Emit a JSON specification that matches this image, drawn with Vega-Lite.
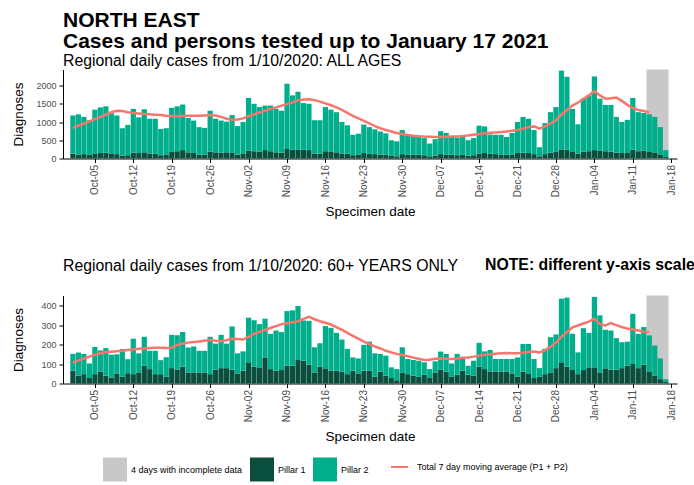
{
"$schema": "https://vega.github.io/schema/vega-lite/v6.json",
"padding": {"left": 10, "top": 9.5, "right": 0, "bottom": 0},
"config": {
  "font": "Liberation Sans",
  "view": {"stroke": null},
  "axis": {"domainColor": "black", "tickColor": "black", "labelColor": "#4d4d4d", "titleColor": "black", "grid": false, "titleFontWeight": "normal", "titleFontSize": 13.5, "tickSize": 4, "domainWidth": 1, "tickWidth": 1, "labelFont": "Liberation Sans", "titleFont": "Liberation Sans"},
  "legend": {"labelFont": "Liberation Sans", "labelFontSize": 9, "labelColor": "black", "padding": 0, "offset": 0},
  "title": {"font": "Liberation Sans", "subtitleFont": "Liberation Sans", "color": "black", "subtitleColor": "black"}
},
"datasets": {
"incomplete": [{"date": "2021-01-14", "end": "2021-01-17", "series": "4 days with incomplete data"}],
"top": [
{"date":"2020-10-01","Pillar 1":130,"Pillar 2":1050,"ma":840},
{"date":"2020-10-02","Pillar 1":110,"Pillar 2":1100,"ma":900},
{"date":"2020-10-03","Pillar 1":120,"Pillar 2":1020,"ma":960},
{"date":"2020-10-04","Pillar 1":100,"Pillar 2":950,"ma":1020},
{"date":"2020-10-05","Pillar 1":140,"Pillar 2":1200,"ma":1080},
{"date":"2020-10-06","Pillar 1":150,"Pillar 2":1250,"ma":1140},
{"date":"2020-10-07","Pillar 1":160,"Pillar 2":1270,"ma":1200},
{"date":"2020-10-08","Pillar 1":140,"Pillar 2":1100,"ma":1270},
{"date":"2020-10-09","Pillar 1":120,"Pillar 2":1060,"ma":1310},
{"date":"2020-10-10","Pillar 1":80,"Pillar 2":750,"ma":1300},
{"date":"2020-10-11","Pillar 1":90,"Pillar 2":830,"ma":1270},
{"date":"2020-10-12","Pillar 1":160,"Pillar 2":1200,"ma":1250},
{"date":"2020-10-13","Pillar 1":150,"Pillar 2":980,"ma":1235},
{"date":"2020-10-14","Pillar 1":170,"Pillar 2":1180,"ma":1220},
{"date":"2020-10-15","Pillar 1":140,"Pillar 2":950,"ma":1210},
{"date":"2020-10-16","Pillar 1":130,"Pillar 2":960,"ma":1200},
{"date":"2020-10-17","Pillar 1":90,"Pillar 2":720,"ma":1190},
{"date":"2020-10-18","Pillar 1":100,"Pillar 2":730,"ma":1175},
{"date":"2020-10-19","Pillar 1":180,"Pillar 2":1210,"ma":1160},
{"date":"2020-10-20","Pillar 1":200,"Pillar 2":1230,"ma":1160},
{"date":"2020-10-21","Pillar 1":230,"Pillar 2":1250,"ma":1165},
{"date":"2020-10-22","Pillar 1":170,"Pillar 2":940,"ma":1170},
{"date":"2020-10-23","Pillar 1":150,"Pillar 2":890,"ma":1175},
{"date":"2020-10-24","Pillar 1":110,"Pillar 2":750,"ma":1170},
{"date":"2020-10-25","Pillar 1":100,"Pillar 2":740,"ma":1180},
{"date":"2020-10-26","Pillar 1":190,"Pillar 2":1120,"ma":1190},
{"date":"2020-10-27","Pillar 1":170,"Pillar 2":920,"ma":1180},
{"date":"2020-10-28","Pillar 1":160,"Pillar 2":880,"ma":1140},
{"date":"2020-10-29","Pillar 1":170,"Pillar 2":840,"ma":1090},
{"date":"2020-10-30","Pillar 1":150,"Pillar 2":1040,"ma":1060},
{"date":"2020-10-31","Pillar 1":110,"Pillar 2":780,"ma":1070},
{"date":"2020-11-01","Pillar 1":140,"Pillar 2":860,"ma":1100},
{"date":"2020-11-02","Pillar 1":220,"Pillar 2":1440,"ma":1160},
{"date":"2020-11-03","Pillar 1":200,"Pillar 2":1300,"ma":1210},
{"date":"2020-11-04","Pillar 1":190,"Pillar 2":1220,"ma":1260},
{"date":"2020-11-05","Pillar 1":230,"Pillar 2":1220,"ma":1310},
{"date":"2020-11-06","Pillar 1":200,"Pillar 2":1250,"ma":1360},
{"date":"2020-11-07","Pillar 1":170,"Pillar 2":1190,"ma":1400},
{"date":"2020-11-08","Pillar 1":160,"Pillar 2":1150,"ma":1450},
{"date":"2020-11-09","Pillar 1":260,"Pillar 2":1790,"ma":1490},
{"date":"2020-11-10","Pillar 1":240,"Pillar 2":1490,"ma":1540},
{"date":"2020-11-11","Pillar 1":250,"Pillar 2":1580,"ma":1600},
{"date":"2020-11-12","Pillar 1":240,"Pillar 2":1280,"ma":1620},
{"date":"2020-11-13","Pillar 1":230,"Pillar 2":1270,"ma":1625},
{"date":"2020-11-14","Pillar 1":130,"Pillar 2":920,"ma":1600},
{"date":"2020-11-15","Pillar 1":140,"Pillar 2":910,"ma":1560},
{"date":"2020-11-16","Pillar 1":200,"Pillar 2":1210,"ma":1510},
{"date":"2020-11-17","Pillar 1":180,"Pillar 2":1160,"ma":1460},
{"date":"2020-11-18","Pillar 1":170,"Pillar 2":1100,"ma":1400},
{"date":"2020-11-19","Pillar 1":140,"Pillar 2":860,"ma":1330},
{"date":"2020-11-20","Pillar 1":130,"Pillar 2":780,"ma":1250},
{"date":"2020-11-21","Pillar 1":90,"Pillar 2":560,"ma":1170},
{"date":"2020-11-22","Pillar 1":100,"Pillar 2":580,"ma":1100},
{"date":"2020-11-23","Pillar 1":150,"Pillar 2":780,"ma":1030},
{"date":"2020-11-24","Pillar 1":130,"Pillar 2":730,"ma":960},
{"date":"2020-11-25","Pillar 1":120,"Pillar 2":680,"ma":890},
{"date":"2020-11-26","Pillar 1":110,"Pillar 2":630,"ma":830},
{"date":"2020-11-27","Pillar 1":100,"Pillar 2":590,"ma":780},
{"date":"2020-11-28","Pillar 1":70,"Pillar 2":430,"ma":740},
{"date":"2020-11-29","Pillar 1":60,"Pillar 2":410,"ma":700},
{"date":"2020-11-30","Pillar 1":120,"Pillar 2":660,"ma":670},
{"date":"2020-12-01","Pillar 1":110,"Pillar 2":530,"ma":645},
{"date":"2020-12-02","Pillar 1":100,"Pillar 2":540,"ma":625},
{"date":"2020-12-03","Pillar 1":100,"Pillar 2":520,"ma":610},
{"date":"2020-12-04","Pillar 1":90,"Pillar 2":470,"ma":600},
{"date":"2020-12-05","Pillar 1":60,"Pillar 2":350,"ma":595},
{"date":"2020-12-06","Pillar 1":80,"Pillar 2":450,"ma":590},
{"date":"2020-12-07","Pillar 1":120,"Pillar 2":630,"ma":590},
{"date":"2020-12-08","Pillar 1":110,"Pillar 2":590,"ma":595},
{"date":"2020-12-09","Pillar 1":100,"Pillar 2":490,"ma":600},
{"date":"2020-12-10","Pillar 1":90,"Pillar 2":480,"ma":605},
{"date":"2020-12-11","Pillar 1":100,"Pillar 2":490,"ma":615},
{"date":"2020-12-12","Pillar 1":80,"Pillar 2":420,"ma":630},
{"date":"2020-12-13","Pillar 1":90,"Pillar 2":470,"ma":650},
{"date":"2020-12-14","Pillar 1":140,"Pillar 2":760,"ma":670},
{"date":"2020-12-15","Pillar 1":150,"Pillar 2":730,"ma":690},
{"date":"2020-12-16","Pillar 1":130,"Pillar 2":530,"ma":705},
{"date":"2020-12-17","Pillar 1":120,"Pillar 2":530,"ma":715},
{"date":"2020-12-18","Pillar 1":110,"Pillar 2":540,"ma":725},
{"date":"2020-12-19","Pillar 1":100,"Pillar 2":490,"ma":740},
{"date":"2020-12-20","Pillar 1":110,"Pillar 2":590,"ma":760},
{"date":"2020-12-21","Pillar 1":150,"Pillar 2":850,"ma":780},
{"date":"2020-12-22","Pillar 1":160,"Pillar 2":980,"ma":820},
{"date":"2020-12-23","Pillar 1":150,"Pillar 2":940,"ma":860},
{"date":"2020-12-24","Pillar 1":120,"Pillar 2":660,"ma":880},
{"date":"2020-12-25","Pillar 1":60,"Pillar 2":250,"ma":820},
{"date":"2020-12-26","Pillar 1":120,"Pillar 2":850,"ma":880},
{"date":"2020-12-27","Pillar 1":160,"Pillar 2":1110,"ma":960},
{"date":"2020-12-28","Pillar 1":180,"Pillar 2":1230,"ma":1050},
{"date":"2020-12-29","Pillar 1":250,"Pillar 2":2160,"ma":1200},
{"date":"2020-12-30","Pillar 1":240,"Pillar 2":2000,"ma":1330},
{"date":"2020-12-31","Pillar 1":180,"Pillar 2":1180,"ma":1450},
{"date":"2021-01-01","Pillar 1":130,"Pillar 2":810,"ma":1530},
{"date":"2021-01-02","Pillar 1":190,"Pillar 2":1450,"ma":1640},
{"date":"2021-01-03","Pillar 1":200,"Pillar 2":1530,"ma":1730},
{"date":"2021-01-04","Pillar 1":230,"Pillar 2":2020,"ma":1850},
{"date":"2021-01-05","Pillar 1":210,"Pillar 2":1430,"ma":1730},
{"date":"2021-01-06","Pillar 1":200,"Pillar 2":1270,"ma":1640},
{"date":"2021-01-07","Pillar 1":190,"Pillar 2":1280,"ma":1650},
{"date":"2021-01-08","Pillar 1":160,"Pillar 2":980,"ma":1670},
{"date":"2021-01-09","Pillar 1":150,"Pillar 2":850,"ma":1580},
{"date":"2021-01-10","Pillar 1":150,"Pillar 2":910,"ma":1470},
{"date":"2021-01-11","Pillar 1":240,"Pillar 2":1420,"ma":1380},
{"date":"2021-01-12","Pillar 1":200,"Pillar 2":1070,"ma":1330},
{"date":"2021-01-13","Pillar 1":210,"Pillar 2":1040,"ma":1300},
{"date":"2021-01-14","Pillar 1":180,"Pillar 2":1030,"ma":1260},
{"date":"2021-01-15","Pillar 1":160,"Pillar 2":980},
{"date":"2021-01-16","Pillar 1":110,"Pillar 2":750},
{"date":"2021-01-17","Pillar 1":40,"Pillar 2":190}
],
"bottom": [
{"date":"2020-10-01","Pillar 1":66,"Pillar 2":86,"ma":108},
{"date":"2020-10-02","Pillar 1":40,"Pillar 2":119,"ma":118},
{"date":"2020-10-03","Pillar 1":48,"Pillar 2":104,"ma":128},
{"date":"2020-10-04","Pillar 1":28,"Pillar 2":75,"ma":138},
{"date":"2020-10-05","Pillar 1":48,"Pillar 2":140,"ma":148},
{"date":"2020-10-06","Pillar 1":62,"Pillar 2":108,"ma":155},
{"date":"2020-10-07","Pillar 1":40,"Pillar 2":142,"ma":160},
{"date":"2020-10-08","Pillar 1":31,"Pillar 2":117,"ma":163},
{"date":"2020-10-09","Pillar 1":52,"Pillar 2":98,"ma":166},
{"date":"2020-10-10","Pillar 1":34,"Pillar 2":143,"ma":168},
{"date":"2020-10-11","Pillar 1":53,"Pillar 2":72,"ma":172},
{"date":"2020-10-12","Pillar 1":48,"Pillar 2":182,"ma":175},
{"date":"2020-10-13","Pillar 1":57,"Pillar 2":98,"ma":178},
{"date":"2020-10-14","Pillar 1":91,"Pillar 2":149,"ma":180},
{"date":"2020-10-15","Pillar 1":74,"Pillar 2":94,"ma":182},
{"date":"2020-10-16","Pillar 1":48,"Pillar 2":120,"ma":183},
{"date":"2020-10-17","Pillar 1":48,"Pillar 2":72,"ma":183},
{"date":"2020-10-18","Pillar 1":34,"Pillar 2":101,"ma":182},
{"date":"2020-10-19","Pillar 1":79,"Pillar 2":171,"ma":184},
{"date":"2020-10-20","Pillar 1":72,"Pillar 2":176,"ma":198},
{"date":"2020-10-21","Pillar 1":86,"Pillar 2":179,"ma":205},
{"date":"2020-10-22","Pillar 1":57,"Pillar 2":128,"ma":210},
{"date":"2020-10-23","Pillar 1":57,"Pillar 2":133,"ma":213},
{"date":"2020-10-24","Pillar 1":57,"Pillar 2":111,"ma":216},
{"date":"2020-10-25","Pillar 1":57,"Pillar 2":111,"ma":220},
{"date":"2020-10-26","Pillar 1":48,"Pillar 2":192,"ma":224},
{"date":"2020-10-27","Pillar 1":71,"Pillar 2":134,"ma":220},
{"date":"2020-10-28","Pillar 1":79,"Pillar 2":171,"ma":217},
{"date":"2020-10-29","Pillar 1":79,"Pillar 2":126,"ma":222},
{"date":"2020-10-30","Pillar 1":71,"Pillar 2":222,"ma":230},
{"date":"2020-10-31","Pillar 1":52,"Pillar 2":103,"ma":228},
{"date":"2020-11-01","Pillar 1":66,"Pillar 2":99,"ma":226},
{"date":"2020-11-02","Pillar 1":109,"Pillar 2":229,"ma":240},
{"date":"2020-11-03","Pillar 1":86,"Pillar 2":239,"ma":255},
{"date":"2020-11-04","Pillar 1":83,"Pillar 2":222,"ma":265},
{"date":"2020-11-05","Pillar 1":134,"Pillar 2":199,"ma":275},
{"date":"2020-11-06","Pillar 1":74,"Pillar 2":181,"ma":285},
{"date":"2020-11-07","Pillar 1":66,"Pillar 2":206,"ma":295},
{"date":"2020-11-08","Pillar 1":69,"Pillar 2":195,"ma":305},
{"date":"2020-11-09","Pillar 1":91,"Pillar 2":281,"ma":310},
{"date":"2020-11-10","Pillar 1":91,"Pillar 2":285,"ma":315},
{"date":"2020-11-11","Pillar 1":121,"Pillar 2":277,"ma":320},
{"date":"2020-11-12","Pillar 1":117,"Pillar 2":207,"ma":332},
{"date":"2020-11-13","Pillar 1":97,"Pillar 2":225,"ma":342},
{"date":"2020-11-14","Pillar 1":57,"Pillar 2":129,"ma":330},
{"date":"2020-11-15","Pillar 1":86,"Pillar 2":121,"ma":320},
{"date":"2020-11-16","Pillar 1":78,"Pillar 2":217,"ma":312},
{"date":"2020-11-17","Pillar 1":66,"Pillar 2":220,"ma":303},
{"date":"2020-11-18","Pillar 1":66,"Pillar 2":194,"ma":290},
{"date":"2020-11-19","Pillar 1":62,"Pillar 2":164,"ma":275},
{"date":"2020-11-20","Pillar 1":48,"Pillar 2":130,"ma":260},
{"date":"2020-11-21","Pillar 1":66,"Pillar 2":68,"ma":245},
{"date":"2020-11-22","Pillar 1":52,"Pillar 2":77,"ma":230},
{"date":"2020-11-23","Pillar 1":66,"Pillar 2":132,"ma":215},
{"date":"2020-11-24","Pillar 1":66,"Pillar 2":149,"ma":202},
{"date":"2020-11-25","Pillar 1":34,"Pillar 2":121,"ma":190},
{"date":"2020-11-26","Pillar 1":62,"Pillar 2":90,"ma":180},
{"date":"2020-11-27","Pillar 1":40,"Pillar 2":103,"ma":168},
{"date":"2020-11-28","Pillar 1":28,"Pillar 2":55,"ma":160},
{"date":"2020-11-29","Pillar 1":17,"Pillar 2":57,"ma":152},
{"date":"2020-11-30","Pillar 1":57,"Pillar 2":129,"ma":146},
{"date":"2020-12-01","Pillar 1":48,"Pillar 2":78,"ma":140},
{"date":"2020-12-02","Pillar 1":40,"Pillar 2":81,"ma":133},
{"date":"2020-12-03","Pillar 1":34,"Pillar 2":83,"ma":127},
{"date":"2020-12-04","Pillar 1":45,"Pillar 2":64,"ma":121},
{"date":"2020-12-05","Pillar 1":28,"Pillar 2":46,"ma":122},
{"date":"2020-12-06","Pillar 1":57,"Pillar 2":57,"ma":127},
{"date":"2020-12-07","Pillar 1":72,"Pillar 2":92,"ma":128},
{"date":"2020-12-08","Pillar 1":60,"Pillar 2":92,"ma":127},
{"date":"2020-12-09","Pillar 1":34,"Pillar 2":69,"ma":126},
{"date":"2020-12-10","Pillar 1":45,"Pillar 2":107,"ma":128},
{"date":"2020-12-11","Pillar 1":66,"Pillar 2":60,"ma":132},
{"date":"2020-12-12","Pillar 1":45,"Pillar 2":46,"ma":134},
{"date":"2020-12-13","Pillar 1":40,"Pillar 2":77,"ma":138},
{"date":"2020-12-14","Pillar 1":86,"Pillar 2":123,"ma":143},
{"date":"2020-12-15","Pillar 1":74,"Pillar 2":91,"ma":148},
{"date":"2020-12-16","Pillar 1":62,"Pillar 2":110,"ma":150},
{"date":"2020-12-17","Pillar 1":62,"Pillar 2":64,"ma":153},
{"date":"2020-12-18","Pillar 1":62,"Pillar 2":64,"ma":155},
{"date":"2020-12-19","Pillar 1":62,"Pillar 2":64,"ma":157},
{"date":"2020-12-20","Pillar 1":52,"Pillar 2":74,"ma":155},
{"date":"2020-12-21","Pillar 1":34,"Pillar 2":100,"ma":155},
{"date":"2020-12-22","Pillar 1":60,"Pillar 2":143,"ma":158},
{"date":"2020-12-23","Pillar 1":52,"Pillar 2":151,"ma":162},
{"date":"2020-12-24","Pillar 1":28,"Pillar 2":98,"ma":164},
{"date":"2020-12-25","Pillar 1":34,"Pillar 2":45,"ma":160},
{"date":"2020-12-26","Pillar 1":48,"Pillar 2":130,"ma":170},
{"date":"2020-12-27","Pillar 1":57,"Pillar 2":181,"ma":188},
{"date":"2020-12-28","Pillar 1":79,"Pillar 2":173,"ma":210},
{"date":"2020-12-29","Pillar 1":109,"Pillar 2":327,"ma":240},
{"date":"2020-12-30","Pillar 1":86,"Pillar 2":355,"ma":265},
{"date":"2020-12-31","Pillar 1":69,"Pillar 2":186,"ma":288},
{"date":"2021-01-01","Pillar 1":48,"Pillar 2":112,"ma":298},
{"date":"2021-01-02","Pillar 1":69,"Pillar 2":215,"ma":308},
{"date":"2021-01-03","Pillar 1":83,"Pillar 2":177,"ma":318},
{"date":"2021-01-04","Pillar 1":83,"Pillar 2":362,"ma":333},
{"date":"2021-01-05","Pillar 1":57,"Pillar 2":293,"ma":305},
{"date":"2021-01-06","Pillar 1":78,"Pillar 2":198,"ma":298},
{"date":"2021-01-07","Pillar 1":71,"Pillar 2":201,"ma":310},
{"date":"2021-01-08","Pillar 1":71,"Pillar 2":162,"ma":300},
{"date":"2021-01-09","Pillar 1":79,"Pillar 2":133,"ma":290},
{"date":"2021-01-10","Pillar 1":91,"Pillar 2":124,"ma":282},
{"date":"2021-01-11","Pillar 1":100,"Pillar 2":258,"ma":277},
{"date":"2021-01-12","Pillar 1":79,"Pillar 2":176,"ma":272},
{"date":"2021-01-13","Pillar 1":97,"Pillar 2":193,"ma":266},
{"date":"2021-01-14","Pillar 1":62,"Pillar 2":185,"ma":264},
{"date":"2021-01-15","Pillar 1":40,"Pillar 2":155},
{"date":"2021-01-16","Pillar 1":22,"Pillar 2":107},
{"date":"2021-01-17","Pillar 1":10,"Pillar 2":12}
]
},
"spacing": 38,
"vconcat": [
{
  "width": 614, "height": 89,
  "title": {"text": ["NORTH EAST", "Cases and persons tested up to January 17 2021"], "subtitle": "Regional daily cases from 1/10/2020: ALL AGES", "anchor": "start", "frame": "group", "fontSize": 21, "fontWeight": "bold", "lineHeight": 21, "subtitleFontSize": 15.8, "subtitleFontWeight": "normal", "subtitlePadding": 2, "offset": 0.5},
  "encoding": {
    "x": {"field": "date", "type": "temporal",
      "scale": {"type": "utc", "nice": false, "domain": [{"year": 2020, "month": 9, "date": 30, "hours": 2, "minutes": 30, "utc": true}, {"year": 2021, "month": 1, "date": 18, "hours": 3, "minutes": 20, "utc": true}]},
      "axis": {"values": [{"year":2020,"month":10,"date":5,"utc":true},{"year":2020,"month":10,"date":12,"utc":true},{"year":2020,"month":10,"date":19,"utc":true},{"year":2020,"month":10,"date":26,"utc":true},{"year":2020,"month":11,"date":2,"utc":true},{"year":2020,"month":11,"date":9,"utc":true},{"year":2020,"month":11,"date":16,"utc":true},{"year":2020,"month":11,"date":23,"utc":true},{"year":2020,"month":11,"date":30,"utc":true},{"year":2020,"month":12,"date":7,"utc":true},{"year":2020,"month":12,"date":14,"utc":true},{"year":2020,"month":12,"date":21,"utc":true},{"year":2020,"month":12,"date":28,"utc":true},{"year":2021,"month":1,"date":4,"utc":true},{"year":2021,"month":1,"date":11,"utc":true},{"year":2021,"month":1,"date":18,"utc":true}],
        "labelExpr": "utcFormat(datum.value, '%b-%d')", "labelAngle": -90, "labelFontSize": 10, "labelPadding": 2, "title": "Specimen date", "titleY": 57.4, "titleBaseline": "alphabetic"}}
  },
  "layer": [
    {"data": {"name": "incomplete"}, "mark": {"type": "rect", "xOffset": -2.79, "x2Offset": 2.79},
     "encoding": {"x2": {"field": "end"},
       "color": {"field": "series", "type": "nominal", "scale": {"domain": ["4 days with incomplete data", "Pillar 1", "Pillar 2"], "range": ["#c8c8c8", "#0a4f3e", "#00ae8c"]},
         "legend": {"title": null, "orient": "none", "legendX": 40, "legendY": 388, "direction": "horizontal", "symbolType": "square", "symbolSize": 576, "symbolStrokeWidth": 0, "labelOffset": 4, "columnPadding": 7, "labelColor": "black"}}}},
    {"data": {"name": "top"}, "transform": [{"fold": ["Pillar 1", "Pillar 2"], "as": ["series", "cases"]}],
     "mark": {"type": "bar", "width": 5.2},
     "encoding": {
       "y": {"field": "cases", "type": "quantitative", "stack": "zero", "scale": {"domain": [0, 2440], "nice": false}, "axis": {"values": [0, 500, 1000, 1500, 2000], "format": "d", "title": "Diagnoses", "labelFontSize": 9, "labelPadding": 3, "titleX": -41, "titleBaseline": "alphabetic"}},
       "color": {"field": "series", "type": "nominal"},
       "order": {"field": "series", "sort": "ascending"}}},
    {"data": {"name": "top"}, "transform": [{"filter": "isValid(datum.ma)"}],
     "mark": {"type": "line", "strokeWidth": 2.5},
     "encoding": {
       "y": {"field": "ma", "type": "quantitative", "scale": {"domain": [0, 2440], "nice": false}, "axis": {"values": [0, 500, 1000, 1500, 2000], "format": "d", "title": "Diagnoses", "labelFontSize": 9, "labelPadding": 3, "titleX": -41, "titleBaseline": "alphabetic"}},
       "stroke": {"datum": "Total 7 day moving average (P1 + P2)", "type": "nominal", "scale": {"domain": ["Total 7 day moving average (P1 + P2)"], "range": ["#f8766d"]},
         "legend": {"title": null, "orient": "none", "legendX": 327, "legendY": 388, "symbolType": "stroke", "symbolSize": 289, "symbolStrokeWidth": 2, "labelOffset": 8, "labelColor": "black"}}}}
  ]
},
{
  "title": {"text": "NOTE: different y-axis scale", "anchor": "start", "frame": "group", "fontSize": 15.8, "fontWeight": "bold", "dx": 422, "offset": -15.8},
  "vconcat": [
  {
    "width": 614, "height": 88,
    "title": {"text": "Regional daily cases from 1/10/2020: 60+ YEARS ONLY", "anchor": "start", "frame": "group", "fontSize": 15.8, "fontWeight": "normal", "offset": 20.7},
    "encoding": {
      "x": {"field": "date", "type": "temporal",
        "scale": {"type": "utc", "nice": false, "domain": [{"year": 2020, "month": 9, "date": 30, "hours": 2, "minutes": 30, "utc": true}, {"year": 2021, "month": 1, "date": 18, "hours": 3, "minutes": 20, "utc": true}]},
        "axis": {"values": [{"year":2020,"month":10,"date":5,"utc":true},{"year":2020,"month":10,"date":12,"utc":true},{"year":2020,"month":10,"date":19,"utc":true},{"year":2020,"month":10,"date":26,"utc":true},{"year":2020,"month":11,"date":2,"utc":true},{"year":2020,"month":11,"date":9,"utc":true},{"year":2020,"month":11,"date":16,"utc":true},{"year":2020,"month":11,"date":23,"utc":true},{"year":2020,"month":11,"date":30,"utc":true},{"year":2020,"month":12,"date":7,"utc":true},{"year":2020,"month":12,"date":14,"utc":true},{"year":2020,"month":12,"date":21,"utc":true},{"year":2020,"month":12,"date":28,"utc":true},{"year":2021,"month":1,"date":4,"utc":true},{"year":2021,"month":1,"date":11,"utc":true},{"year":2021,"month":1,"date":18,"utc":true}],
          "labelExpr": "utcFormat(datum.value, '%b-%d')", "labelAngle": -90, "labelFontSize": 10, "labelPadding": 2, "title": "Specimen date", "titleY": 57.4, "titleBaseline": "alphabetic"}}
    },
    "layer": [
      {"data": {"name": "incomplete"}, "mark": {"type": "rect", "xOffset": -2.79, "x2Offset": 2.79},
       "encoding": {"x2": {"field": "end"}, "color": {"field": "series", "type": "nominal"}}},
      {"data": {"name": "bottom"}, "transform": [{"fold": ["Pillar 1", "Pillar 2"], "as": ["series", "cases"]}],
       "mark": {"type": "bar", "width": 5.2},
       "encoding": {
         "y": {"field": "cases", "type": "quantitative", "stack": "zero", "scale": {"domain": [0, 452], "nice": false}, "axis": {"values": [0, 100, 200, 300, 400], "title": "Diagnoses", "labelFontSize": 9, "labelPadding": 3, "titleX": -41, "titleBaseline": "alphabetic"}},
         "color": {"field": "series", "type": "nominal"},
         "order": {"field": "series", "sort": "ascending"}}},
      {"data": {"name": "bottom"}, "transform": [{"filter": "isValid(datum.ma)"}],
       "mark": {"type": "line", "strokeWidth": 2.5},
       "encoding": {
         "y": {"field": "ma", "type": "quantitative", "scale": {"domain": [0, 452], "nice": false}, "axis": {"values": [0, 100, 200, 300, 400], "title": "Diagnoses", "labelFontSize": 9, "labelPadding": 3, "titleX": -41, "titleBaseline": "alphabetic"}},
         "stroke": {"datum": "Total 7 day moving average (P1 + P2)", "type": "nominal"}}}
    ]
  }
  ]
}
]
}
